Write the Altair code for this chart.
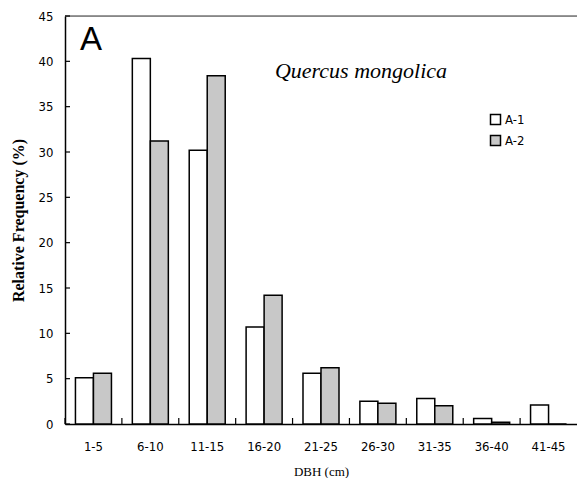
import altair as alt
import pandas as pd

categories = ["1-5", "6-10", "11-15", "16-20", "21-25", "26-30", "31-35", "36-40", "41-45"]
a1 = [5.1, 40.3, 30.2, 10.7, 5.6, 2.5, 2.8, 0.6, 2.1]
a2 = [5.6, 31.2, 38.4, 14.2, 6.2, 2.3, 2.0, 0.2, 0.0]
series = ["A-1", "A-2"]
y_ticks = [0, 5, 10, 15, 20, 25, 30, 35, 40, 45]
panel_label = ["A"]
species_name = ["Quercus mongolica"]

rows = []
for c, v1, v2 in zip(categories, a1, a2):
    rows.append({"cat": c, "series": "A-1", "value": v1})
    rows.append({"cat": c, "series": "A-2", "value": v2})
df = pd.DataFrame(rows)
cat_df = pd.DataFrame({"cat": categories})
tick_df = pd.DataFrame({"v": y_ticks})
top_df = pd.DataFrame({"v": [45]})

tick_font = "DejaVu Sans Condensed, Liberation Sans Narrow, Liberation Sans, sans-serif"
serif_font = "Liberation Serif, DejaVu Serif, serif"

x_scale = alt.Scale(domain=categories, paddingInner=0, paddingOuter=0)
y_scale = alt.Scale(domain=[0, 45], nice=False)

bars = alt.Chart(df).mark_bar(stroke="black", strokeWidth=1.5).encode(
    x=alt.X("cat:N", scale=x_scale, sort=categories,
            axis=alt.Axis(title="DBH (cm)", labelAngle=0, ticks=False,
                          labelFont=tick_font, labelFontSize=13, labelColor="black",
                          labelPadding=16, titleFont=serif_font,
                          titleFontSize=13, titleFontWeight="normal", titleColor="black",
                          titlePadding=12, domainColor="black", domainWidth=1.5)),
    xOffset=alt.XOffset("series:N", scale=alt.Scale(domain=series, paddingInner=0, paddingOuter=0.58)),
    y=alt.Y("value:Q", scale=y_scale,
            axis=alt.Axis(title="Relative Frequency (%)", values=y_ticks, ticks=False, grid=False,
                          labelFont=tick_font, labelFontSize=13, labelColor="black",
                          labelPadding=12, titleFont=serif_font, titleFontSize=16,
                          titleFontWeight="bold", titleColor="black", titlePadding=12,
                          domainColor="black", domainWidth=1.5)),
    fill=alt.Fill("series:N", scale=alt.Scale(domain=series, range=["white", "#c8c8c8"]),
                  legend=alt.Legend(title=None, orient="none", legendX=424, legendY=97,
                                    symbolType="square", symbolSize=100,
                                    symbolStrokeColor="black", symbolStrokeWidth=1.5,
                                    labelFont=tick_font, labelFontSize=13,
                                    labelColor="black", rowPadding=4, labelOffset=3)),
)

x_ticks = alt.Chart(cat_df).mark_rule(color="black", strokeWidth=1.2).encode(
    x=alt.X("cat:N", scale=x_scale, sort=categories, bandPosition=0),
    y=alt.value(408),
    y2=alt.value(402),
)

y_tick_marks = alt.Chart(tick_df).mark_rule(color="black", strokeWidth=1.2).encode(
    y=alt.Y("v:Q", scale=y_scale),
    x=alt.value(0),
    x2=alt.value(5),
)

top_line = alt.Chart(top_df).mark_rule(color="#333333", strokeWidth=1).encode(
    y=alt.Y("v:Q", scale=y_scale),
)

label_a = alt.Chart(pd.DataFrame({"t": panel_label})).mark_text(
    font="Liberation Sans", fontSize=33, fontWeight="normal", color="black",
    align="center", baseline="alphabetic"
).encode(text="t:N", x=alt.value(26), y=alt.value(34))

species = alt.Chart(pd.DataFrame({"t": species_name})).mark_text(
    font=serif_font, fontStyle="italic", fontSize=22, fontWeight="normal",
    color="black", align="center", baseline="alphabetic"
).encode(text="t:N", x=alt.value(296), y=alt.value(62))

chart = alt.layer(top_line, bars, x_ticks, y_tick_marks, label_a, species).properties(
    width=512, height=408,
    autosize=alt.AutoSizeParams(type="none"),
    padding={"left": 57, "top": 8, "right": 0, "bottom": 54},
).configure_view(stroke=None).configure(background="white")

chart.save("out.html", embed_options={"renderer": "svg", "actions": False})
